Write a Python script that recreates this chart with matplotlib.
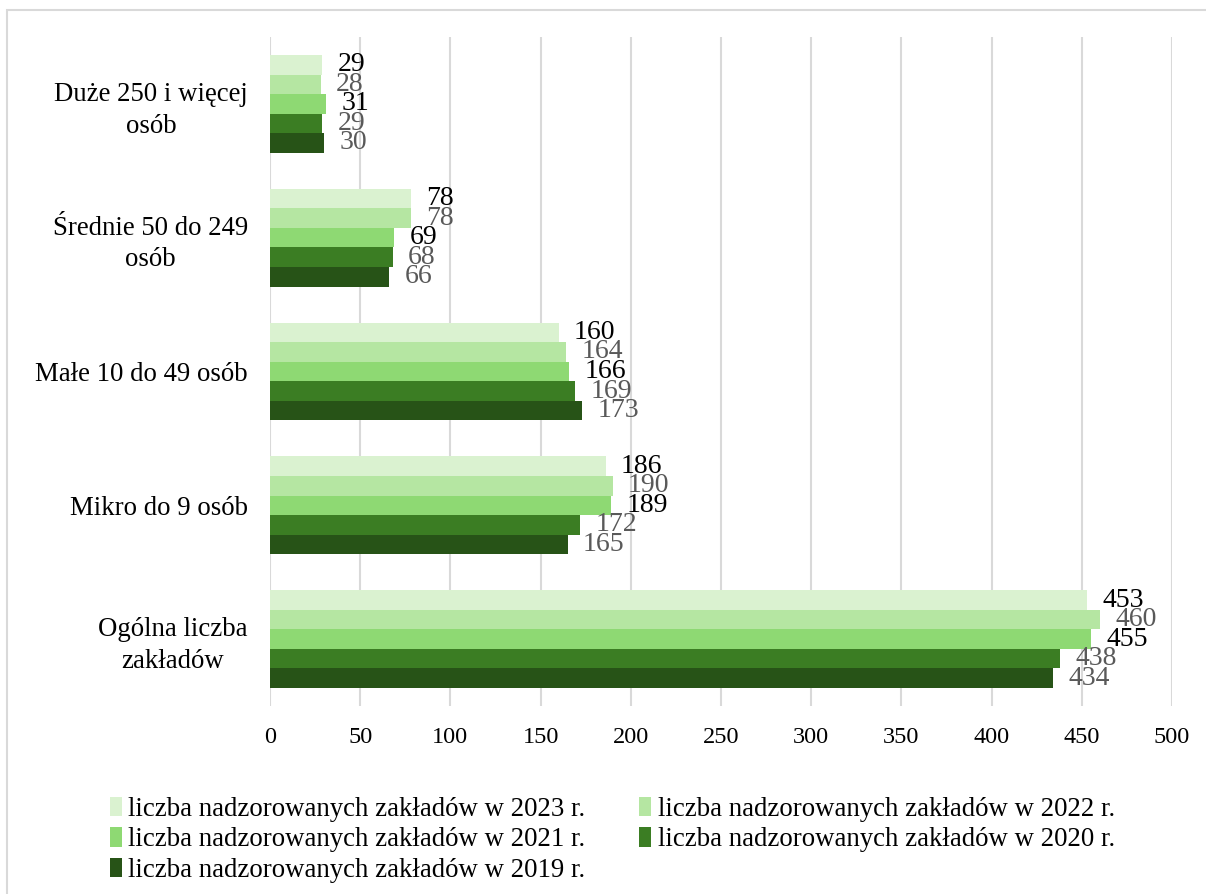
import matplotlib
matplotlib.use("Agg")
import matplotlib.pyplot as plt
from matplotlib.patches import Rectangle
import numpy as np

plt.rcParams['font.family'] = ['Liberation Serif', 'DejaVu Serif']

categories = ["Ogólna liczba\nzakładów", "Mikro do 9 osób", "Małe 10 do 49 osób",
              "Średnie 50 do 249\nosób", "Duże 250 i więcej\nosób"]
series_names = ["liczba nadzorowanych zakładów w 2023 r.",
                "liczba nadzorowanych zakładów w 2022 r.",
                "liczba nadzorowanych zakładów w 2021 r.",
                "liczba nadzorowanych zakładów w 2020 r.",
                "liczba nadzorowanych zakładów w 2019 r."]
v2023 = [453, 186, 160, 78, 29]
v2022 = [460, 190, 164, 78, 28]
v2021 = [455, 189, 166, 69, 31]
v2020 = [438, 172, 169, 68, 29]
v2019 = [434, 165, 173, 66, 30]
values = [v2023, v2022, v2021, v2020, v2019]
xticks = [0, 50, 100, 150, 200, 250, 300, 350, 400, 450, 500]

colors = ["#DAF2D0", "#B5E6A2", "#8ED973", "#3B7D23", "#275317"]
label_colors = ["#000000", "#595959", "#000000", "#595959", "#595959"]

W, H = 1206, 894
fig = plt.figure(figsize=(W / 100, H / 100), dpi=100)
ax = fig.add_axes([270 / W, 1 - 706 / H, (1172 - 270) / W, (706 - 37) / H])

y = np.arange(len(categories))
h = 0.146
containers = []
for i, (vals, c) in enumerate(zip(values, colors)):
    off = (2 - i) * h
    cont = ax.barh(y + off, vals, height=h, color=c, edgecolor='none',
                   label=series_names[i], zorder=3)
    containers.append(cont)
    ax.bar_label(cont, padding=11, color=label_colors[i], fontsize=20)

ax.set_xlim(0, 500)
ax.set_ylim(-0.5, 4.5)
ax.set_xticks(xticks)
ax.set_xticklabels([str(t) for t in xticks], fontsize=17.5)
ax.set_yticks(y)
ax.set_yticklabels(categories, fontsize=19.3, multialignment='center',
                   linespacing=1.35)
ax.tick_params(axis='both', length=0)
ax.tick_params(axis='y', pad=16)
ax.tick_params(axis='x', pad=15)
for s in ax.spines.values():
    s.set_visible(False)
ax.xaxis.grid(True, color='#D9D9D9', linewidth=1.5, zorder=0)
ax.set_axisbelow(True)

handles = [containers[i] for i in [0, 2, 4, 1, 3]]
labels = [series_names[i] for i in [0, 2, 4, 1, 3]]
fig.legend(handles, labels, ncol=2, loc='upper left',
           bbox_to_anchor=(99 / W, 1 - 786 / H), frameon=False,
           fontsize=19.3, handlelength=0.45, handleheight=0.75,
           handletextpad=0.25, columnspacing=2.0, labelspacing=0.2,
           borderaxespad=0)

fig.patches.append(Rectangle((7 / W, -0.05), 1.1, 1 - 10 / H + 0.05,
                             transform=fig.transFigure, fill=False,
                             edgecolor='#D9D9D9', linewidth=1.5))

fig.savefig("out.png", dpi=100)
